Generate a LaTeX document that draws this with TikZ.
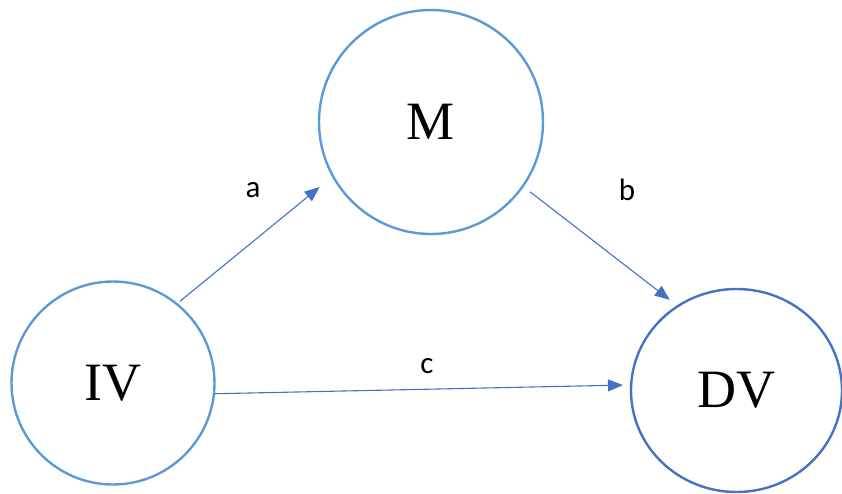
\documentclass[tikz,border=0pt]{standalone}
\usepackage{fontspec}
\setmainfont{Liberation Serif}
\newfontfamily\labelfont{Carlito}
\usetikzlibrary{arrows.meta,shapes.geometric}

\definecolor{medlight}{RGB}{91,155,213}
\definecolor{meddark}{RGB}{68,114,196}

\begin{document}
\begin{tikzpicture}[x=1pt,y=1pt,>={Triangle[length=15pt,width=12pt]},
    var/.style={circle,draw=medlight,line width=2.4pt,inner sep=0pt,
      font=\fontsize{54}{60}\selectfont},
    path/.style={->,meddark,line width=1.1pt},
    plabel/.style={font=\labelfont\fontsize{31}{34}\selectfont}]
    \useasboundingbox (0,0) rectangle (842,493);
    \node[var,minimum size=224pt] (M) at (431,371) {M};
    \node[var,minimum size=203pt] (IV) at (113,110) {IV};
    \node[var,ellipse,draw=meddark,minimum width=211pt,minimum height=203pt]
      (DV) at (736.5,102.5) {DV};
    % paths a, b, c
    \draw[path,shorten <=3pt,shorten >=16pt] (IV.51) -- (M.209);
    \draw[path,shorten <=8pt,shorten >=9pt] (M.-35) -- (DV.125);
    \draw[path,shorten >=7pt] (IV.-6) -- (DV.177);
    \node[plabel] (la) at (253,303) {a};
    \node[plabel] (lb) at (627,303) {b};
    \node[plabel] (lc) at (427,127) {c};
  \end{tikzpicture}
\end{document}
